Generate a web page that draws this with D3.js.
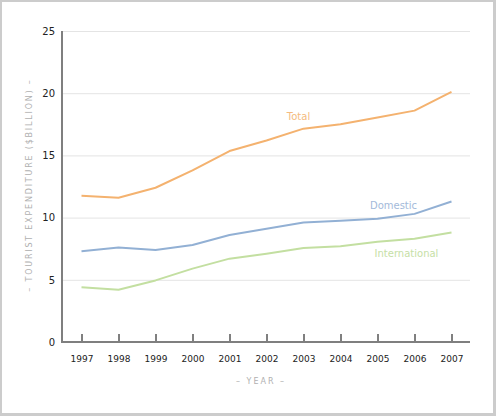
<!DOCTYPE html>
<html lang="en">
<head>
    <meta charset="UTF-8">
    <title>Tourist expenditure</title>
    <style>
        body { margin: 0; background: #fff; }
        svg { display: block; font-family: "DejaVu Sans", Verdana, sans-serif; }
        .domain { display: none; }
    </style>
</head>
<body>
    <svg width="496" height="416" id="svg"></svg>
    <script src="https://cdnjs.cloudflare.com/ajax/libs/d3/7.8.5/d3.min.js"></script>
    <script>
        // data
        const years = ["1997", "1998", "1999", "2000", "2001", "2002", "2003", "2004", "2005", "2006", "2007"]
        const total = [11.75, 11.6, 12.4, 13.8, 15.35, 16.2, 17.15, 17.5, 18.05, 18.6, 20.1]
        const domestic = [7.3, 7.6, 7.4, 7.8, 8.6, 9.1, 9.6, 9.75, 9.9, 10.3, 11.3]
        const international = [4.4, 4.2, 4.95, 5.9, 6.7, 7.1, 7.55, 7.7, 8.05, 8.3, 8.8]
        const yTicks = [0, 5, 10, 15, 20, 25]

        const seriesNames = ["Total", "Domestic", "International"]
        const seriesValues = [total, domestic, international]
        const lineColors = ["#f4b26f", "#92b0d4", "#c3dfa1"]
        const labelColors = ["#f5bb80", "#a3bada", "#c6e0a6"]
        // where each series label sits (year it hangs over, offset in px)
        const labelYear = ["2002", "2005", "2005"]
        const labelDx = [32, 16, 29]
        const labelDy = [-20, -10, 15]

        const svg = d3.select("svg#svg")
        const width = +svg.attr("width")
        const height = +svg.attr("height")
        const padding = { top: 31, right: 26, bottom: 74, left: 63 }

        // grey frame
        svg.append("rect").attr("width", width).attr("height", height).attr("fill", "#cccccc")
        svg.append("rect").attr("x", 2).attr("y", 2).attr("width", width - 5).attr("height", height - 5).attr("fill", "#fff")

        const xScale = d3.scalePoint().domain(years).range([padding.left, width - padding.right]).padding(0.5)
        const yScale = d3.scaleLinear().domain([0, 25]).range([height - padding.bottom, padding.top])

        // grid lines
        svg.append("g")
            .attr("transform", `translate(${padding.left}, 0)`)
            .call(d3.axisLeft(yScale).tickValues(yTicks.slice(1)).tickSize(-(width - padding.right - padding.left)).tickFormat(""))
            .call(g => g.selectAll(".tick line").attr("stroke", "#e4e4e4"))

        // y labels
        svg.append("g")
            .attr("transform", `translate(${padding.left - 2}, 0)`)
            .call(d3.axisLeft(yScale).tickValues(yTicks).tickSize(0).tickPadding(6))
            .call(g => g.selectAll("text").attr("font-size", 10).attr("fill", "#222").attr("font-family", "DejaVu Sans"))

        // x ticks and labels
        const xAxis = svg.append("g")
            .attr("transform", `translate(0, ${height - padding.bottom})`)
            .call(d3.axisBottom(xScale).tickSize(-7).tickPadding(0))
        xAxis.selectAll(".tick line").attr("stroke", "#000").attr("transform", "translate(0,-1)")
        xAxis.selectAll("text").attr("font-size", 9).attr("fill", "#222").attr("font-family", "DejaVu Sans").attr("dy", "2.25em")

        // axis lines
        svg.append("line")
            .attr("x1", padding.left - 1).attr("x2", padding.left - 1)
            .attr("y1", padding.top).attr("y2", height - padding.bottom + 1)
            .attr("stroke", "#7f7f7f").attr("stroke-width", 2)
        svg.append("line")
            .attr("x1", padding.left - 2).attr("x2", width - padding.right)
            .attr("y1", height - padding.bottom).attr("y2", height - padding.bottom)
            .attr("stroke", "#7f7f7f").attr("stroke-width", 2)

        // lines
        const line = d3.line().x((d, i) => xScale(years[i])).y(d => yScale(d))
        seriesValues.forEach((vals, k) => {
            svg.append("path").datum(vals)
                .attr("fill", "none")
                .attr("stroke", lineColors[k])
                .attr("stroke-width", 2)
                .attr("stroke-linejoin", "round")
                .attr("d", line)
            const yi = years.indexOf(labelYear[k])
            svg.append("text")
                .attr("x", xScale(labelYear[k]) + labelDx[k])
                .attr("y", yScale(vals[yi]) + labelDy[k])
                .attr("text-anchor", "middle")
                .attr("font-size", 10)
                .attr("fill", labelColors[k])
                .text(seriesNames[k])
        })

        // axis titles
        svg.append("text")
            .attr("x", 261)
            .attr("y", 384)
            .attr("text-anchor", "middle")
            .attr("font-size", 8)
            .attr("letter-spacing", 2)
            .attr("fill", "#b0b0b0")
            .text("– YEAR –")
        svg.append("text")
            .attr("transform", `translate(32, 185) rotate(-90)`)
            .attr("text-anchor", "middle")
            .attr("font-size", 8)
            .attr("letter-spacing", 1.8)
            .attr("fill", "#b0b0b0")
            .text("– TOURIST EXPENDITURE ($BILLION) –")
    </script>
</body>
</html>
